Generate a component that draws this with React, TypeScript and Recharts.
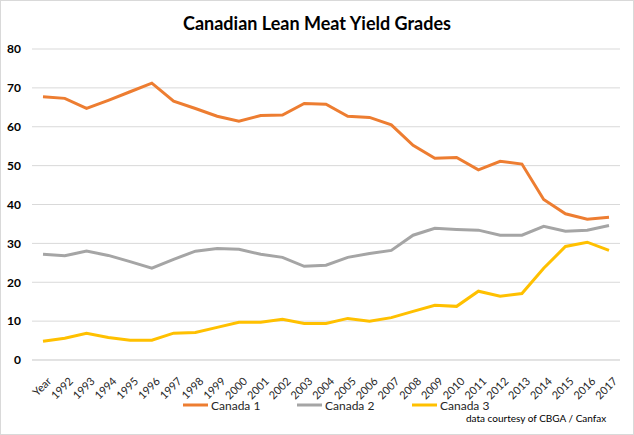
import React from "react";
import { LineChart, Line, XAxis, YAxis, CartesianGrid } from "recharts";

const categories = ["Year", "1992", "1993", "1994", "1995", "1996", "1997", "1998", "1999", "2000", "2001", "2002", "2003", "2004", "2005", "2006", "2007", "2008", "2009", "2010", "2011", "2012", "2013", "2014", "2015", "2016", "2017"];
const canada1 = [67.7, 67.3, 64.7, 66.8, 69.0, 71.2, 66.6, 64.7, 62.7, 61.4, 62.9, 63.0, 66.0, 65.8, 62.7, 62.4, 60.5, 55.2, 51.9, 52.1, 48.9, 51.1, 50.4, 41.3, 37.6, 36.2, 36.7];
const canada2 = [27.2, 26.8, 28.0, 26.9, 25.3, 23.6, 25.9, 28.0, 28.7, 28.5, 27.2, 26.4, 24.1, 24.4, 26.4, 27.4, 28.2, 32.1, 33.9, 33.6, 33.4, 32.1, 32.1, 34.4, 33.1, 33.4, 34.6];
const canada3 = [4.8, 5.6, 6.9, 5.8, 5.1, 5.1, 6.9, 7.1, 8.4, 9.7, 9.7, 10.5, 9.4, 9.4, 10.7, 10.0, 10.9, 12.5, 14.1, 13.8, 17.7, 16.4, 17.1, 23.6, 29.2, 30.3, 28.2];
const yTicks = [0, 10, 20, 30, 40, 50, 60, 70, 80];

const seriesNames = ["Canada 1", "Canada 2", "Canada 3"];
const seriesColors = ["#ED7D31", "#A5A5A5", "#FFC000"];

const data = categories.map((c, i) => ({
  year: c,
  c1: canada1[i],
  c2: canada2[i],
  c3: canada3[i],
}));

const FONT = "Lato, 'Open Sans', sans-serif";

const XTick = (props: any) => {
  const { x, y, payload } = props;
  const ax = x + 9;
  const ay = y + 14;
  return (
    <text
      x={ax}
      y={ay}
      textAnchor="end"
      fontSize={11}
      fill="#262626"
      fontFamily={FONT}
      transform={`rotate(-45, ${ax}, ${ay})`}
    >
      {payload.value}
    </text>
  );
};

const legendOffsets = [183, 297, 412];

export default function App() {
  return (
    <div
      style={{
        position: "absolute",
        left: 0,
        top: 0,
        width: 632,
        height: 433,
        border: "1px solid #d9d9d9",
        background: "#fff",
        fontFamily: FONT,
      }}
    >
      <div
        style={{
          position: "absolute",
          left: 0,
          width: 632,
          top: 11,
          textAlign: "center",
          fontSize: 18,
          fontWeight: 700,
          color: "#000",
          lineHeight: "22px",
        }}
      >
        Canadian Lean Meat Yield Grades
      </div>
      <LineChart
        width={632}
        height={433}
        data={data}
        margin={{ top: 48, right: 13, bottom: 0, left: 0 }}
      >
        <CartesianGrid horizontal vertical={false} stroke="#d9d9d9" />
        <XAxis
          dataKey="year"
          tick={<XTick />}
          tickLine={false}
          axisLine={{ stroke: "#d9d9d9" }}
          interval={0}
          height={74}
          padding={{ left: 11, right: 11 }}
        />
        <YAxis
          domain={[0, 80]}
          ticks={yTicks}
          width={31}
          tickLine={false}
          axisLine={false}
          tickSize={0}
          tickMargin={11}
          tick={{ fontSize: 12, fill: "#000", fontWeight: 700, fontFamily: FONT }}
        />
        <Line dataKey="c1" name={seriesNames[0]} stroke={seriesColors[0]} strokeWidth={3} dot={false} isAnimationActive={false} />
        <Line dataKey="c2" name={seriesNames[1]} stroke={seriesColors[1]} strokeWidth={3} dot={false} isAnimationActive={false} />
        <Line dataKey="c3" name={seriesNames[2]} stroke={seriesColors[2]} strokeWidth={3} dot={false} isAnimationActive={false} />
      </LineChart>
      <svg
        width={632}
        height={20}
        style={{ position: "absolute", left: 0, top: 394 }}
      >
        {seriesNames.map((n, i) => (
          <g key={n} transform={`translate(${legendOffsets[i] - 1},0)`}>
            <line x1={0} y1={10} x2={25} y2={10} stroke={seriesColors[i]} strokeWidth={3} />
            <text x={28} y={14.5} fontSize={12} fill="#262626" fontFamily={FONT}>
              {n}
            </text>
          </g>
        ))}
      </svg>
      <div
        style={{
          position: "absolute",
          left: 465,
          top: 410,
          fontSize: 10,
          lineHeight: "14px",
          color: "#000",
          whiteSpace: "nowrap",
        }}
      >
        data courtesy of CBGA / Canfax
      </div>
    </div>
  );
}
